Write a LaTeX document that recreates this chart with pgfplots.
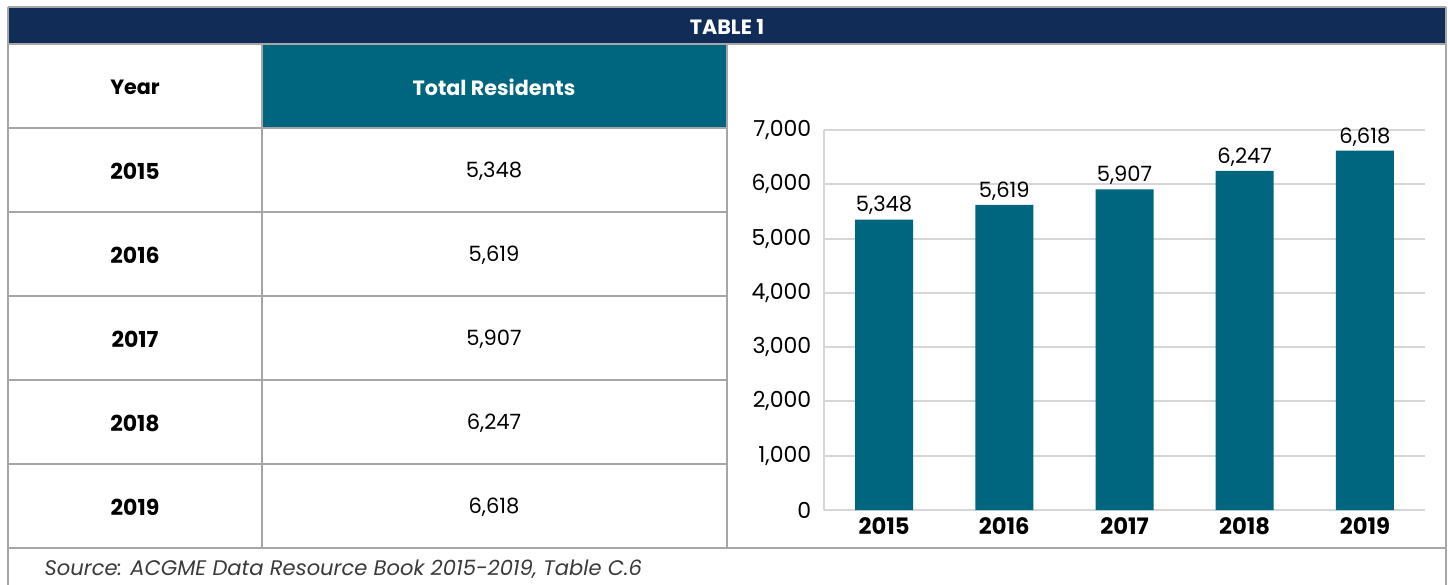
\documentclass[border=0pt]{standalone}
\usepackage{pgfplots}
\pgfplotsset{compat=1.18}
\usepackage{fontspec}
\setmainfont{Poppins}
\definecolor{navy}{HTML}{122C58}
\definecolor{tealc}{HTML}{00667F}
\definecolor{bordergray}{HTML}{A6A6A6}
\definecolor{gridgray}{HTML}{D6D6D6}
\definecolor{srcgray}{HTML}{3A3A3A}
\newcommand{\fsb}{\fontsize{16.5}{18}\selectfont}
\newcommand{\fsn}{\fontsize{15.8}{18}\selectfont}
\newcommand{\fsh}{\fontsize{15.5}{18}\selectfont}
\begin{document}
\begin{tikzpicture}
\begin{scope}[x=0.75pt,y=-0.75pt]
\useasboundingbox (0,0) rectangle (1450,585);
\fill[white] (0,0) rectangle (1450,585);
\fill[navy] (8,7) rectangle (1446,44);
\fill[tealc] (262,44) rectangle (727,128);
\begin{scope}[bordergray, line width=1.5pt]
\draw (8,7) -- (1446,7);
\draw (8,7) -- (8,586);
\draw (1446,7) -- (1446,586);
\draw (8,44.5) -- (1446,44.5);
\draw (262,44.5) -- (262,548);
\draw (727,44.5) -- (727,548);
\foreach \yy in {128,212,296,380,464} {\draw (8,\yy) -- (727,\yy);}
\draw (8,548) -- (1446,548);
\end{scope}
\node[white,font=\bfseries\fontsize{15.5}{18}\selectfont] at (727,26.5) {TABLE 1};
\node[font=\bfseries\fsh] at (135,87) {Year};
\node[white,font=\bfseries\fsh] at (494,87) {Total Residents};
\foreach \yr/\val/\yy in {2015/{5,348}/171,2016/{5,619}/255,2017/{5,907}/339,2018/{6,247}/423,2019/{6,618}/507} {
  \node[font=\bfseries\fsb] at (135,\yy) {\yr};
  \node[font=\fsn] at (494,\yy) {\val};
}
\node[anchor=west,font=\itshape\fsn,text=srcgray] at (40,569) {Source: ACGME Data Resource Book 2015-2019, Table C.6};
\end{scope}
\begin{axis}[
  at={(618pt,-382.5pt)}, anchor=south west,
  scale only axis, width=450.75pt, height=285pt,
  xmin=-0.5, xmax=4.5, ymin=0, ymax=7000,
  ybar, bar width=43.5pt,
  xtick={0,1,2,3,4}, xticklabels={2015,2016,2017,2018,2019},
  ytick={0,1000,...,7000},
  ymajorgrids, grid style={gridgray, line width=1.5pt},
  axis lines=left, axis line style={gridgray, line width=1.5pt, -},
  major tick length=0pt, tick style={draw=none},
  scaled y ticks=false,
  yticklabel style={font=\fontsize{16.5}{18}\selectfont, text=black, xshift=-6pt},
  xticklabel style={font=\bfseries\fontsize{17}{19}\selectfont, text=black, yshift=-2.5pt},
  /pgf/number format/1000 sep={,},
  /pgf/number format/assume math mode=true,
  nodes near coords,
  every node near coord/.append style={font=\fsn, text=black, yshift=0pt},
]
\addplot[fill=tealc, draw=none] coordinates {(0,5348) (1,5619) (2,5907) (3,6247) (4,6618)};
\end{axis}
\end{tikzpicture}
\end{document}
